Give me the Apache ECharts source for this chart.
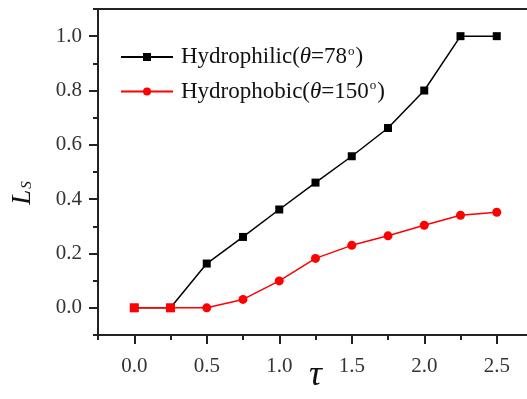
<!DOCTYPE html>
<html>
<head>
<meta charset="utf-8">
<script src="https://cdn.jsdelivr.net/npm/echarts@6/dist/echarts.min.js"></script>
<style>
  html, body { margin: 0; padding: 0; background: #fff; }
  #chart { width: 527px; height: 399px; }
</style>
</head>
<body>
<div id="chart"></div>
<script>
// tau values shared by both series
const tau = [0, 0.25, 0.5, 0.75, 1.0, 1.25, 1.5, 1.75, 2.0, 2.25, 2.5];
const hydrophilic = [0, 0, 0.163, 0.261, 0.362, 0.461, 0.558, 0.662, 0.80, 1.0, 1.0];
const hydrophobic = [0, 0, 0, 0.031, 0.099, 0.182, 0.230, 0.265, 0.304, 0.341, 0.352];

const xMajor = [0, 0.5, 1.0, 1.5, 2.0, 2.5];
const yMajor = [0, 0.2, 0.4, 0.6, 0.8, 1.0];

const FONT = '"Liberation Serif", "DejaVu Serif", serif';
const AXIS_COLOR = '#222';
const LABEL_COLOR = '#333';

const chart = echarts.init(document.getElementById('chart'));

const legendRich = {
  a: { fontFamily: FONT, fontSize: 23, color: '#111' },
  i: { fontFamily: FONT, fontSize: 23, fontStyle: 'italic', color: '#111' },
  s: { fontFamily: FONT, fontSize: 13, color: '#111', padding: [0, 1, 11, 1] }
};

const option = {
  animation: false,
  backgroundColor: '#fff',
  grid: {
    left: 98, top: 9, right: -6, bottom: 64,
    containLabel: false,
    outerBoundsMode: 'none',
    show: true,
    borderColor: AXIS_COLOR,
    borderWidth: 2,
    backgroundColor: 'transparent'
  },
  legend: {
    left: 120, top: 45,
    padding: 0,
    orient: 'vertical',
    itemWidth: 52, itemHeight: 10,
    itemGap: 11,
    data: ['Hydrophilic', 'Hydrophobic'],
    formatter: (name) => name === 'Hydrophilic'
      ? '{a|Hydrophilic(}{i|θ}{a|=78}{s|o}{a|)}'
      : '{a|Hydrophobic(}{i|θ}{a|=150}{s|o}{a|)}',
    textStyle: { rich: legendRich, padding: [0, 0, 0, 3] }
  },
  xAxis: [
    {
      type: 'value', min: -0.25, max: 2.75,
      position: 'bottom',
      axisLine: { show: true, onZero: false, lineStyle: { color: AXIS_COLOR, width: 2 } },
      axisTick: { show: true, inside: false, length: 9, customValues: xMajor, lineStyle: { color: AXIS_COLOR, width: 2 } },
      axisLabel: {
        customValues: xMajor, margin: 21,
        formatter: (v) => v.toFixed(1),
        fontFamily: FONT, fontSize: 21, color: LABEL_COLOR
      },
      splitLine: { show: false },
      name: 'τ',
      nameLocation: 'middle',
      nameGap: 23,
      nameMoveOverlap: false,
      nameTextStyle: { fontFamily: FONT, fontSize: 36, fontStyle: 'italic', color: '#111' }
    },
    {
      type: 'value', min: -0.25, max: 2.75, interval: 0.25,
      position: 'bottom',
      axisLine: { show: false, onZero: false },
      axisTick: { show: true, length: 5, lineStyle: { color: AXIS_COLOR, width: 2 } },
      axisLabel: { show: false },
      splitLine: { show: false }
    }
  ],
  yAxis: [
    {
      type: 'value', min: -0.1, max: 1.1,
      position: 'left',
      axisLine: { show: true, onZero: false, lineStyle: { color: AXIS_COLOR, width: 2 } },
      axisTick: { show: true, length: 9, customValues: yMajor, lineStyle: { color: AXIS_COLOR, width: 2 } },
      axisLabel: {
        customValues: yMajor, margin: 16,
        formatter: (v) => v.toFixed(1),
        fontFamily: FONT, fontSize: 21, color: LABEL_COLOR
      },
      splitLine: { show: false },
      name: '{l|L}{s|S}',
      nameLocation: 'middle',
      nameGap: 62,
      nameRotate: 90,
      nameMoveOverlap: false,
      nameTextStyle: {
        padding: [0, 42, 0, 0],
        rich: {
          l: { fontFamily: FONT, fontSize: 27, fontStyle: 'italic', color: '#111' },
          s: { fontFamily: FONT, fontSize: 15, fontStyle: 'italic', color: '#111', padding: [10, 0, 0, 1] }
        }
      }
    },
    {
      type: 'value', min: -0.1, max: 1.1, interval: 0.1,
      position: 'left',
      axisLine: { show: false, onZero: false },
      axisTick: { show: true, length: 5, lineStyle: { color: AXIS_COLOR, width: 2 } },
      axisLabel: { show: false },
      splitLine: { show: false }
    }
  ],
  series: [
    {
      name: 'Hydrophilic',
      type: 'line',
      data: tau.map((t, i) => [t, hydrophilic[i]]),
      symbol: 'rect',
      symbolSize: 8,
      color: '#000',
      lineStyle: { color: '#000', width: 1.5 },
      itemStyle: { color: '#000' }
    },
    {
      name: 'Hydrophobic',
      type: 'line',
      data: tau.map((t, i) => [t, hydrophobic[i]]),
      symbol: (v, p) => (p.dataIndex < 2 ? 'rect' : 'circle'),
      symbolSize: 9,
      color: '#ff0000',
      lineStyle: { color: '#ff0000', width: 1.5 },
      itemStyle: { color: '#ff0000' }
    }
  ]
};

chart.setOption(option);
</script>
</body>
</html>
